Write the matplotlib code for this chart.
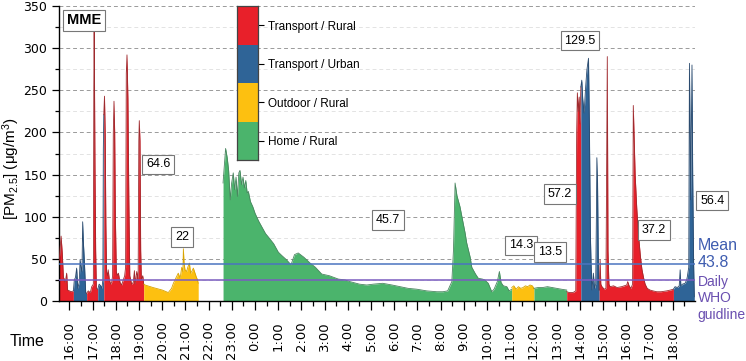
import matplotlib
matplotlib.use("Agg")
import matplotlib.pyplot as plt
from matplotlib.ticker import MultipleLocator, FixedLocator

plt.rcParams['font.family'] = ['Liberation Sans', 'DejaVu Sans']
plt.rcParams['mathtext.fontset'] = 'custom'
plt.rcParams['mathtext.rm'] = 'Liberation Sans'
plt.rcParams['mathtext.it'] = 'Liberation Sans:italic'

# categories (legend order, top to bottom)
categories = ["Transport / Rural", "Transport / Urban", "Outdoor / Rural", "Home / Rural"]
cat_colors = {"Transport / Rural": "#E8202A", "Transport / Urban": "#2F6497",
              "Outdoor / Rural": "#FDC010", "Home / Rural": "#4BB46C"}
cat_edges = {"Transport / Rural": "#9E2A2E", "Transport / Urban": "#2A4A6E",
             "Outdoor / Rural": "#D8A300", "Home / Rural": "#4A8560"}

# time in hours since midnight of day 1, PM2.5 in ug/m3
seg_cat = ["Transport / Rural", "Transport / Urban", "Transport / Rural", "Transport / Urban",
           "Transport / Rural", "Outdoor / Rural", "Home / Rural", "Outdoor / Rural",
           "Home / Rural", "Transport / Rural", "Transport / Urban", "Transport / Rural",
           "Transport / Urban"]
seg_t = [
    [15.56, 15.59, 15.64, 15.69, 15.74, 15.78, 15.82, 15.88, 15.92, 16.0, 16.08, 16.17],
    [16.17, 16.21, 16.26, 16.31, 16.36, 16.42, 16.46, 16.5, 16.54, 16.57, 16.6, 16.64, 16.7, 16.74],
    [16.74, 16.81, 16.9, 16.96, 17.03, 17.05, 17.065, 17.08, 17.1, 17.13, 17.16, 17.22],
    [17.22, 17.28, 17.35, 17.4, 17.44, 17.46, 17.48],
    [17.48, 17.51, 17.54, 17.57, 17.6, 17.64, 17.67, 17.72, 17.78, 17.82, 17.86, 17.89, 17.92,
     17.95, 17.98, 18.02, 18.06, 18.11, 18.18, 18.25, 18.32, 18.38, 18.42, 18.45, 18.48, 18.52,
     18.56, 18.6, 18.68, 18.75, 18.8, 18.83, 18.9, 18.96, 18.99, 19.01, 19.04, 19.07, 19.1,
     19.16, 19.2],
    [19.2, 19.26, 19.6, 20.0, 20.26, 20.4, 20.48, 20.6, 20.69, 20.73, 20.77, 20.84, 20.89,
     20.91, 20.94, 20.98, 21.05, 21.1, 21.17, 21.22, 21.27, 21.34, 21.4, 21.46, 21.52, 21.55],
    [22.62, 22.66, 22.73, 22.8, 22.86, 22.93, 22.99, 23.06, 23.12, 23.18, 23.24, 23.3, 23.35,
     23.42, 23.48, 23.54, 23.6, 23.66, 23.71, 23.8, 23.9, 24.0, 24.15, 24.29, 24.45, 24.57,
     24.8, 25.0, 25.15, 25.35, 25.55, 25.7, 25.86, 26.1, 26.37, 26.6, 26.87, 27.2, 27.59,
     27.88, 28.09, 28.5, 28.81, 29.1, 29.5, 29.9, 30.25, 30.6, 30.97, 31.4, 31.83, 32.1,
     32.3, 32.48, 32.55, 32.62, 32.7, 32.83, 32.95, 33.05, 33.12, 33.27, 33.34, 33.5, 33.62,
     33.8, 33.9, 34.05, 34.2, 34.3, 34.44, 34.53, 34.6, 34.7, 34.85, 34.95, 35.06],
    [35.06, 35.15, 35.25, 35.35, 35.45, 35.55, 35.65, 35.75, 35.85, 35.95, 36.02],
    [36.02, 36.2, 36.4, 36.6, 36.8, 37.0, 37.2, 37.43],
    [37.43, 37.55, 37.7, 37.82, 37.86, 37.89, 37.93, 37.97, 38.0, 38.04],
    [38.04, 38.08, 38.12, 38.18, 38.25, 38.3, 38.37, 38.41, 38.45, 38.48, 38.52, 38.58, 38.63,
     38.68, 38.71, 38.73, 38.76, 38.8, 38.83],
    [38.83, 38.87, 38.9, 38.95, 39.05, 39.12, 39.15, 39.18, 39.21, 39.25, 39.3, 39.45, 39.6,
     39.8, 40.02, 40.06, 40.12, 40.2, 40.27, 40.3, 40.38, 40.45, 40.52, 40.6, 40.67, 40.74,
     40.81, 40.9, 41.02, 41.15, 41.31, 41.5, 41.74, 41.9, 42.03],
    [42.03, 42.1, 42.2, 42.28, 42.32, 42.35, 42.42, 42.53, 42.6, 42.63, 42.69, 42.72, 42.75,
     42.77, 42.8, 42.83, 42.86, 42.9, 42.93],
]
seg_v = [
    [48, 60, 77, 57, 28, 26, 22, 33, 13, 12, 11, 12],
    [12, 25, 28, 39, 15, 22, 49, 40, 35, 94, 70, 49, 10, 9],
    [9, 12, 10, 17, 20, 250, 322, 260, 160, 60, 15, 14],
    [14, 20, 18, 15, 25, 180, 221],
    [221, 243, 200, 90, 35, 30, 37, 25, 20, 22, 30, 200, 237, 200, 100, 35, 30, 33, 22, 19, 25,
     30, 40, 270, 292, 240, 120, 30, 20, 22, 36, 20, 35, 25, 190, 214, 190, 60, 25, 30, 20],
    [20, 19, 16, 13, 10, 15, 21, 28, 33, 30, 27, 40, 35, 62, 45, 37, 35, 40, 45, 33, 35, 39,
     34, 29, 25, 21],
    [140, 155, 181, 170, 155, 120, 140, 152, 132, 147, 124, 152, 155, 138, 147, 134, 143, 128,
     130, 118, 112, 104, 95, 88, 80, 76, 68, 58, 54, 49, 43, 55, 57, 52, 45, 40, 32, 30, 26,
     25, 23, 20, 19, 20, 21, 19, 17, 15, 14, 12, 11, 11, 12, 23, 60, 140, 125, 112, 95, 81,
     69, 52, 40, 32, 27, 26, 25, 21, 11, 14, 23, 35, 22, 18, 17, 12, 14],
    [16, 18, 14, 17, 15, 16, 18, 17, 19, 18, 15],
    [15, 16, 16, 17, 16, 15, 14, 13],
    [11, 10, 10, 12, 200, 247, 225, 242, 210, 254],
    [254, 262, 240, 223, 255, 274, 288, 203, 80, 45, 13, 33, 15, 20, 100, 170, 140, 30, 13],
    [13, 49, 20, 17, 14, 15, 150, 290, 60, 20, 17, 18, 16, 17, 19, 23, 18, 15, 20, 232, 150,
     110, 80, 55, 38, 28, 20, 15, 13, 12, 11, 11, 12, 13, 14],
    [14, 17, 16, 18, 37, 18, 20, 21, 25, 29, 40, 282, 200, 120, 200, 280, 150, 45, 5],
]

# boxed mean values per activity (hour, y, text)
box_t = [19.82, 20.85, 29.73, 35.46, 36.71, 37.14, 38.0, 41.2]
box_y = [162, 76, 96, 66, 58, 127, 309, 84]
box_txt = ["64.6", "22", "45.7", "14.3", "13.5", "57.2", "129.5", "37.2"]
mean_val = 43.8
who_val = 25

fig = plt.figure(figsize=(7.46, 3.61), dpi=100)
ax = fig.add_axes([59 / 746, 1 - 301 / 361, 636 / 746, 295 / 361])

for cat, t, v in zip(seg_cat, seg_t, seg_v):
    ax.fill_between(t, 0, v, color=cat_colors[cat], lw=0, zorder=2)
    ax.plot(t, v, color=cat_edges[cat], lw=0.6, zorder=3)

ax.axhline(mean_val, color="#4A74C0", lw=1.1, zorder=4)
ax.axhline(who_val, color="#7A5CC0", lw=1.1, zorder=4)

ax.set_xlim(15.55, 42.96)
ax.set_ylim(0, 350)
ax.yaxis.set_major_locator(MultipleLocator(50))
ax.yaxis.set_minor_locator(MultipleLocator(25))
hours = list(range(16, 43))
ax.xaxis.set_major_locator(FixedLocator(hours))
ax.set_xticklabels(["%d:00" % (h % 24) for h in hours], rotation=90, fontsize=9.5,
                   family='DejaVu Sans')
ax.xaxis.set_minor_locator(MultipleLocator(0.5))
for lab in ax.get_yticklabels():
    lab.set_family('DejaVu Sans')
ax.tick_params(axis='y', labelsize=9, length=5, width=0.9)
ax.tick_params(axis='y', which='minor', length=3, width=0.9)
ax.tick_params(axis='x', length=6.5, width=0.9, pad=8)
ax.tick_params(axis='x', which='minor', length=3.5, width=0.9)
ax.grid(axis='y', which='major', ls=(0, (4, 3)), color='#9a9a9a', lw=0.7, zorder=0)
ax.grid(axis='y', which='minor', ls=(0, (4, 3)), color='#e3e3e3', lw=0.7, zorder=0)
ax.set_axisbelow(True)
for s in ['top', 'right']:
    ax.spines[s].set_visible(False)
ax.spines['left'].set_linewidth(1.0)
ax.spines['bottom'].set_linewidth(1.0)

ax.set_ylabel("[PM$_{2.5}$] (μg/m$^3$)", fontsize=11)
ax.yaxis.set_label_coords(-0.058, 0.45)
fig.text(10 / 746, 1 - 342 / 361, "Time", fontsize=11.5, va='center', ha='left')

bbox = dict(boxstyle='square,pad=0.3', fc='white', ec='#777777', lw=0.8)
for t, y, s in zip(box_t, box_y, box_txt):
    ax.text(t, y, s, ha='center', va='center', fontsize=9, bbox=bbox, zorder=6)
ax.text(43.7, 119, "56.4", ha='center', va='center', fontsize=9, bbox=bbox, zorder=6,
        clip_on=False)
ax.text(0.012, 0.975, "MME", transform=ax.transAxes, ha='left', va='top', fontsize=10.5,
        fontweight='bold', bbox=dict(boxstyle='square,pad=0.25', fc='white', ec='#777777', lw=0.8))

ytr = ax.get_yaxis_transform()
ax.text(1.004, 56, "Mean\n43.8", transform=ytr, ha='left', va='center', fontsize=11.5,
        color="#3F5DB0", linespacing=1.15, clip_on=False)
ax.text(1.004, 3, "Daily\nWHO\nguidline", transform=ytr, ha='left', va='center', fontsize=10,
        color="#6A4FB0", linespacing=1.2, clip_on=False)

# stacked colour legend
lg = fig.add_axes([237 / 746, 1 - 160 / 361, 21 / 746, 154 / 361])
for i, cat in enumerate(categories[::-1]):
    lg.axhspan(i, i + 1, color=cat_colors[cat], lw=0)
lg.set_ylim(0, 4)
lg.set_xlim(0, 1)
lg.set_xticks([])
lg.yaxis.tick_right()
lg.set_yticks([i + 0.5 for i in range(4)])
lg.set_yticklabels(categories[::-1], fontsize=8.5)
lg.tick_params(axis='y', length=4, width=0.8, pad=3)
for s in lg.spines.values():
    s.set_color('#444444')
    s.set_linewidth(0.9)

fig.savefig("out.png", dpi=100)
